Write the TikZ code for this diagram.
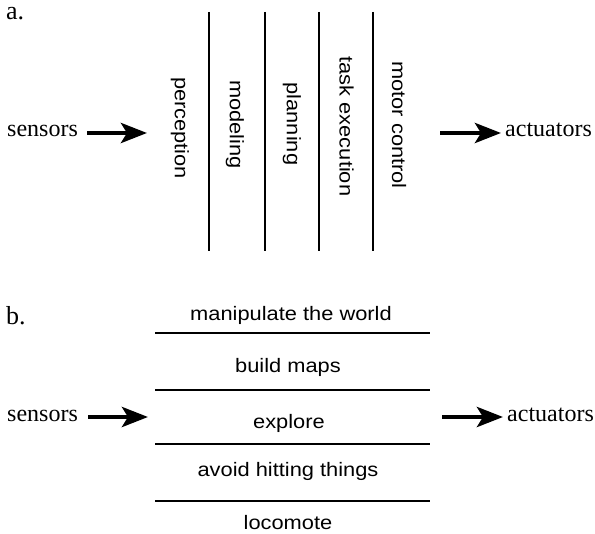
\documentclass[tikz,border=0pt]{standalone}
\usepackage{fontspec}
\setmainfont{Liberation Serif}
\setsansfont{Liberation Sans}
\usetikzlibrary{arrows.meta}
\newcommand{\widetext}[1]{\scalebox{1.12}[1]{#1}}
\tikzset{
  serif/.style={font=\fontsize{24}{28}\selectfont, inner sep=0pt},
  panel/.style={font=\fontsize{26}{30}\selectfont, inner sep=0pt},
  layer/.style={font=\sffamily\fontsize{19.5}{22}\selectfont, inner sep=0pt},
  vlayer/.style={layer, rotate=-90},
  bigarrow/.style={line width=4.5pt, -{Stealth[length=26pt,width=20pt,inset=6pt]}},
  divider/.style={line width=1.8pt},
}
\begin{document}
\begin{tikzpicture}[x=1pt,y=1pt]
\useasboundingbox (0,-534) rectangle (595,0);
% ---- panel a ----
\node[panel, anchor=base west] (la) at (6,-20) {a.};
\node[serif, anchor=base west] (sa) at (7,-137) {sensors};
\node[serif, anchor=base west] (aa) at (505,-137) {actuators};
\coordinate (sa1) at (87,-133);
\coordinate (sa2) at (147,-133);
\coordinate (aa1) at (440,-133);
\coordinate (aa2) at (501,-133);
\draw[bigarrow] (sa1) -- (sa2);
\draw[bigarrow] (aa1) -- (aa2);
\foreach \x [count=\i] in {209,265,319,373}{
  \coordinate (vt\i) at (\x,-12);
  \coordinate (vb\i) at (\x,-251);
  \draw[divider] (vt\i) -- (vb\i);
}
\node[vlayer] (perc) at (180,-128) {\widetext{perception}};
\node[vlayer] (mode) at (235,-124.5) {\widetext{modeling}};
\node[vlayer] (plan) at (292,-124) {\widetext{planning}};
\node[vlayer] (task) at (346.5,-126.5) {\widetext{task execution}};
\node[vlayer] (moto) at (399,-125) {\widetext{motor control}};
% ---- panel b ----
\node[panel, anchor=base west] (lb) at (6,-325) {b.};
\node[serif, anchor=base west] (sb) at (7,-422) {sensors};
\node[serif, anchor=base west] (ab) at (507,-422) {actuators};
\coordinate (sb1) at (88,-417);
\coordinate (sb2) at (148,-417);
\coordinate (ab1) at (442,-417);
\coordinate (ab2) at (503,-417);
\draw[bigarrow] (sb1) -- (sb2);
\draw[bigarrow] (ab1) -- (ab2);
\foreach \y [count=\i] in {333,390,444,501}{
  \coordinate (hl\i) at (155,-\y);
  \coordinate (hr\i) at (430,-\y);
  \draw[divider] (hl\i) -- (hr\i);
}
\node[layer, anchor=base] (manip) at (291,-321) {\widetext{manipulate the world}};
\node[layer, anchor=base] (maps) at (288,-373) {\widetext{build maps}};
\node[layer, anchor=base] (expl) at (289,-429) {\widetext{explore}};
\node[layer, anchor=base] (avoid) at (288,-477) {\widetext{avoid hitting things}};
\node[layer, anchor=base] (loco) at (288,-530) {\widetext{locomote}};
\end{tikzpicture}
\end{document}
